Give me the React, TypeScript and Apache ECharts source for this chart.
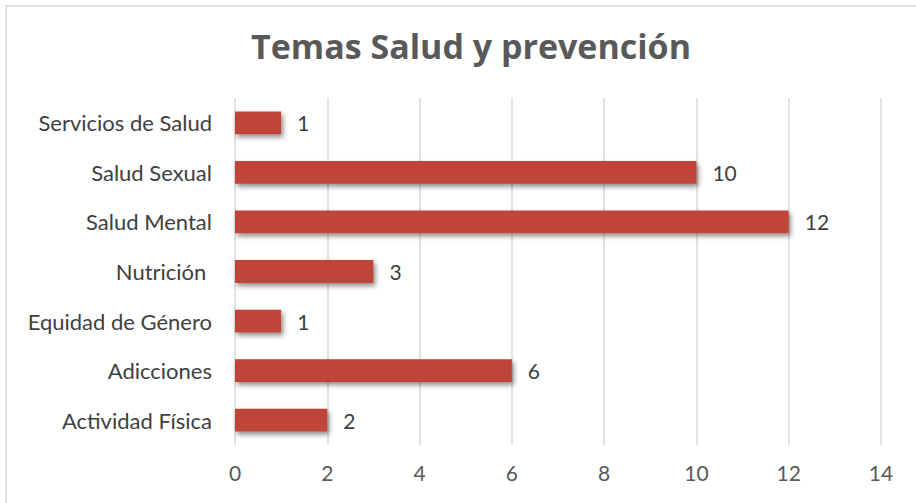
import React, { useEffect, useRef } from "react";
import * as echarts from "echarts";

const categories = [
  "Servicios de Salud",
  "Salud Sexual",
  "Salud Mental",
  "Nutrición ",
  "Equidad de Género",
  "Adicciones",
  "Actividad Física",
];
const values = [1, 10, 12, 3, 1, 6, 2];
const xTicks = { min: 0, max: 14, interval: 2 };

export default function App() {
  const ref = useRef<HTMLDivElement>(null);
  useEffect(() => {
    const chart = echarts.init(ref.current!, undefined, { renderer: "svg" });
    chart.setOption({
      animation: false,
      backgroundColor: "#ffffff",
      title: {
        text: "Temas Salud y prevención",
        left: 246,
        top: 24,
        textStyle: {
          fontFamily: "Open Sans",
          fontWeight: "bold",
          fontSize: 34,
          color: "#595959",
        },
      },
      graphic: [
        {
          type: "rect",
          shape: { x: 6, y: 6, width: 940, height: 540 },
          style: { fill: "none", stroke: "#d9d9d9", lineWidth: 1.5 },
          silent: true,
        },
      ],
      grid: { left: 235, right: 35, top: 98, bottom: 58 },
      xAxis: {
        type: "value",
        min: xTicks.min,
        max: xTicks.max,
        interval: xTicks.interval,
        axisLine: { show: false },
        axisTick: { show: false },
        splitLine: { show: true, lineStyle: { color: "#d9d9d9", width: 1.5 } },
        axisLabel: {
          fontFamily: "Lato",
          fontSize: 21,
          color: "#595959",
          margin: 17,
        },
      },
      yAxis: {
        type: "category",
        data: categories,
        inverse: true,
        axisLine: { show: false },
        axisTick: { show: false },
        axisLabel: {
          fontFamily: "Lato",
          fontSize: 22,
          color: "#404040",
          margin: 23,
        },
      },
      series: [
        {
          type: "bar",
          data: values,
          barCategoryGap: "54%",
          itemStyle: {
            color: "#be4537",
            shadowColor: "rgba(0,0,0,0.45)",
            shadowBlur: 5,
            shadowOffsetX: 2,
            shadowOffsetY: 3,
          },
          label: {
            show: true,
            position: "right",
            distance: 16,
            fontFamily: "Lato",
            fontSize: 21,
            color: "#404040",
          },
        },
      ],
    });
    return () => chart.dispose();
  }, []);
  return (
    <div
      ref={ref}
      style={{ position: "fixed", left: 0, top: 0, width: 916, height: 503 }}
    />
  );
}
